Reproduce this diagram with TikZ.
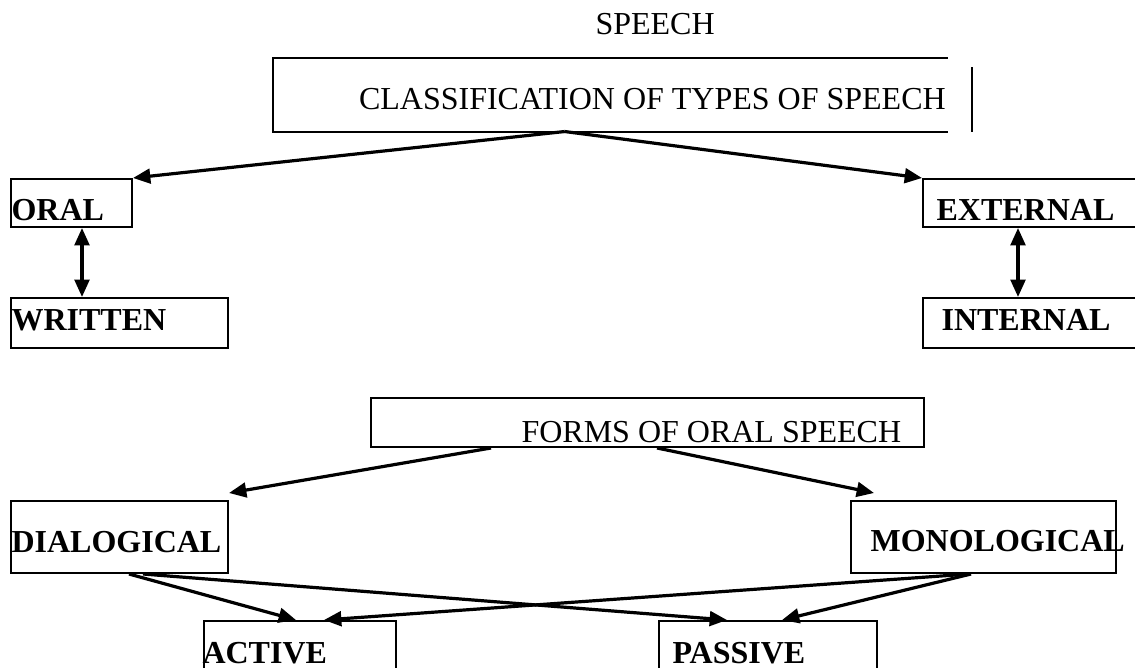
\documentclass[tikz,border=0pt]{standalone}
\usepackage{fontspec}
\setmainfont{Liberation Serif}
\usepackage{tikz}
\usetikzlibrary{calc}
\usetikzlibrary{fit}
\usetikzlibrary{arrows.meta}

\tikzset{
	box/.style={draw, line width=0.75pt, inner sep=0pt},
	boxtext/.style={anchor=base west, inner sep=0pt, font=\fontsize{12}{14}\selectfont\bfseries},
	plaintext/.style={anchor=base west, inner sep=0pt, font=\fontsize{12}{14}\selectfont},
	link/.style={line width=1.2pt},
}

\begin{document}
\begin{tikzpicture}[x=0.375pt, y=-0.375pt, >={Triangle[length=6.5pt,width=5.5pt]}]
		\clip (0,0) rectangle (1135,668);
%		title
		\node[plaintext] (title) at (595,35) {SPEECH};
		\node[inner sep=0pt, fit={(274,59) (947,131)}] (cls) {};
		\draw[line width=0.75pt] (cls.north east) -- (cls.north west) 
		-- (cls.south west) -- (cls.south east);
		\draw[line width=0.75pt] ($(cls.north east)+(24,9)$) -- ($(cls.south east)+(24,0)$);
		\node[plaintext] (clstext) at ($(cls.south west)+(85,-22)$) {CLASSIFICATION OF TYPES OF SPEECH};
		
%		oral and written
		\node[box, fit={(11,179) (132,227)}] (oral) {};
		\node[boxtext] (oraltext) at ($(oral.south west)+(1,-7)$) {ORAL};
		\node[box, fit={(11,298) (228,348)}] (written) {};
		\node[boxtext] (writtentext) at ($(written.south west)+(1,-18)$) {WRITTEN};
		
%		external and internal
		\node[box, fit={(923,179) (1150,227)}] (external) {};
		\node[boxtext] (externaltext) at ($(external.south west)+(14,-7)$) {EXTERNAL};
		\node[box, fit={(923,298) (1150,348)}] (internal) {};
		\node[boxtext] (internaltext) at ($(internal.south west)+(19,-18)$) {INTERNAL};
		
		\draw[link,->] ($(cls.south west)!0.432!(cls.south east)$) -- (oral.north east);
		\draw[link,->] ($(cls.south west)!0.432!(cls.south east)$) -- (external.north west);
		\draw[link,<->] ($(oral.south west)+(72,0)$) -- ($(written.north west)+(72,0)$);
		\draw[link,<->] ($(external.south west)+(96,0)$) -- ($(internal.north west)+(96,0)$);
		
%		forms of oral speech
		\node[box, fit={(371,398) (924,447)}] (forms) {};
		\node[plaintext] (formstext) at ($(forms.south west)+(151,-6)$) {FORMS OF ORAL SPEECH};
		\node[box, fit={(11,501) (228,573)}] (dialog) {};
		\node[boxtext] (dialogtext) at ($(dialog.south west)+(1,-22)$) {DIALOGICAL};
		\node[box, fit={(851,501) (1116,573)}] (monolog) {};
		\node[boxtext] (monologtext) at ($(monolog.south west)+(20,-23)$) {MONOLOGICAL};
		\node[box, fit={(204,621) (396,700)}] (active) {};
		\node[boxtext] (activetext) at ($(active.north west)+(-1,43)$) {ACTIVE};
		\node[box, fit={(659,621) (877,700)}] (passive) {};
		\node[boxtext] (passivetext) at ($(passive.north west)+(14,43)$) {PASSIVE};
		
		\draw[link,->] ($(forms.south west)+(121,0)$) -- ($(dialog.north east)+(0,-7)$);
		\draw[link,->] ($(forms.south west)+(287,0)$) -- ($(monolog.north west)+(24,-7)$);
		\draw[link,->] ($(dialog.south west)+(119,0)$) -- ($(active.north west)+(93,0)$);
		\draw[link,->] ($(dialog.south west)+(133,0)$) -- ($(passive.north west)+(69,0)$);
		\draw[link,->] ($(monolog.south west)+(119,0)$) -- ($(active.north west)+(121,0)$);
		\draw[link,->] ($(monolog.south west)+(121,0)$) -- ($(passive.north west)+(124,0)$);
	\end{tikzpicture}
\end{document}
